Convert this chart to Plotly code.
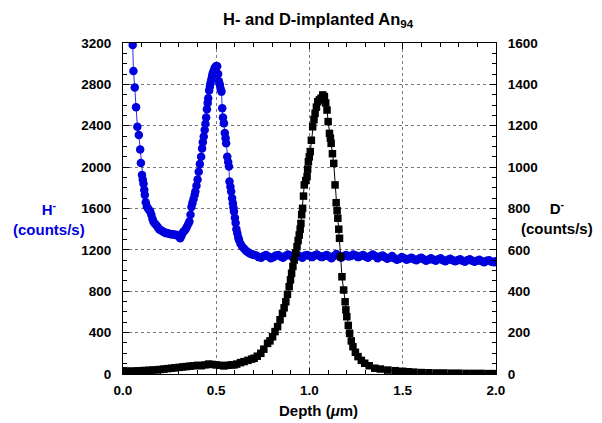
import plotly.graph_objects as go

# H- (blue, left axis)
h_depth = [0.052,0.056,0.063,0.070,0.077,0.085,0.092,0.096,0.102,0.106,0.110,0.114,0.117,0.122,0.128,0.134,0.140,0.146,0.152,0.158,
           0.163,0.170,0.178,0.186,0.194,0.200,0.208,0.216,0.224,0.232,0.240,0.248,0.256,0.264,0.272,0.280,0.290,0.298,0.307,0.314,
           0.320,0.327,0.334,0.342,0.350,0.356,0.362,0.367,0.372,0.378,0.384,0.388,0.394,0.400,0.406,0.412,0.419,0.424,0.428,0.433,
           0.438,0.442,0.446,0.450,0.454,0.457,0.462,0.466,0.469,0.474,0.478,0.481,0.486,0.491,0.496,0.501,0.505,0.510,0.514,0.519,
           0.523,0.528,0.532,0.536,0.541,0.546,0.550,0.553,0.559,0.564,0.568,0.571,0.576,0.580,0.585,0.589,0.592,0.595,0.600,0.604,
           0.608,0.613,0.618,0.622,0.630,0.640,0.650,0.660,0.667,0.676,0.686,0.695,0.703,
           0.715,0.728,0.741,0.754,0.767,0.780,0.793,0.806,0.819,0.832,0.845,0.858,0.871,0.884,0.897,0.910,0.923,0.936,0.949,0.962,
           0.975,0.988,1.001,1.014,1.027,1.040,1.053,1.066,1.079,1.092,1.105,1.118,1.131,1.144,1.157,1.170,1.183,1.196,1.209,1.222,
           1.235,1.248,1.261,1.274,1.287,1.300,1.313,1.326,1.339,1.352,1.365,1.378,1.391,1.404,1.417,1.430,1.443,1.456,1.469,1.482,
           1.495,1.508,1.521,1.534,1.547,1.560,1.573,1.586,1.599,1.612,1.625,1.638,1.651,1.664,1.677,1.690,1.703,1.716,1.729,1.742,
           1.755,1.768,1.781,1.794,1.807,1.820,1.833,1.846,1.859,1.872,1.885,1.898,1.911,1.924,1.937,1.950,1.963,1.976,1.989,1.998]
h_counts = [3180,2930,2770,2580,2390,2310,2170,2040,1925,1880,1840,1780,1730,1660,1620,1600,1585,1570,1540,1500,
            1475,1455,1440,1420,1400,1392,1385,1375,1368,1362,1360,1356,1352,1350,1348,1346,1344,1330,1312,1340,
            1365,1380,1395,1420,1450,1475,1540,1615,1650,1690,1730,1765,1820,1880,1955,2030,2100,2180,2240,2295,
            2360,2420,2480,2560,2620,2665,2740,2780,2810,2850,2880,2905,2930,2955,2970,2978,2975,2900,2830,2800,
            2760,2730,2570,2480,2425,2330,2280,2230,2100,2050,2005,1860,1810,1765,1700,1650,1610,1570,1510,1460,
            1400,1360,1320,1295,1260,1230,1210,1190,1182,1170,1160,1155,1150,
            1145,1130,1125,1140,1150,1135,1120,1130,1145,1150,1135,1125,1140,1155,1145,1130,1140,1150,1135,1125,
            1145,1150,1140,1130,1145,1155,1140,1130,1140,1150,1135,1120,1140,1160,1145,1125,1140,1150,1135,1140,
            1155,1145,1130,1140,1150,1135,1125,1140,1155,1140,1120,1135,1145,1130,1115,1125,1140,1120,1105,1115,
            1130,1120,1105,1115,1125,1110,1100,1115,1125,1110,1095,1105,1120,1105,1095,1110,1120,1100,1090,1105,
            1115,1100,1090,1100,1110,1095,1085,1100,1110,1095,1085,1095,1105,1090,1080,1095,1100,1085,1080,1090]

# D- (black, right axis)
d_depth = [0.000,0.020,0.040,0.060,0.080,0.100,0.120,0.140,0.160,0.180,0.200,0.220,0.240,0.260,0.280,0.300,0.320,0.340,0.360,0.380,
           0.400,0.420,0.440,0.460,0.480,0.500,0.520,0.541,0.560,0.580,0.595,0.610,0.630,0.649,0.670,0.690,0.703,0.720,0.739,0.755,
           0.775,0.788,0.802,0.815,0.829,0.842,0.855,0.864,0.873,0.882,0.891,0.898,0.904,0.911,0.918,0.926,0.933,0.939,0.945,0.950,
           0.954,0.958,0.963,0.968,0.972,0.980,0.987,0.990,0.994,0.999,1.004,1.010,1.017,1.024,1.030,1.037,1.044,1.053,1.062,1.071,
           1.080,1.087,1.094,1.100,1.107,1.112,1.116,1.123,1.130,1.137,1.143,1.148,1.152,1.157,1.161,1.167,1.174,1.183,1.191,1.195,
           1.200,1.208,1.215,1.224,1.233,1.246,1.260,1.278,1.296,1.320,1.350,1.380,1.420,1.460,1.500,1.530,1.560,1.600,1.640,1.680,
           1.720,1.760,1.800,1.840,1.880,1.920,1.960,1.990]
d_counts = [15,14,13,14,15,16,17,18,19,20,22,24,26,28,30,32,34,36,38,40,
            42,40,44,48,46,44,42,39,42,44,44,48,55,60,66,72,76,86,100,120,
            148,160,180,205,229,262,293,320,349,385,422,455,487,520,551,585,615,645,672,700,
            728,770,801,860,914,935,954,990,1026,1050,1075,1130,1195,1230,1260,1290,1316,1325,1333,1349,
            1341,1310,1276,1220,1163,1140,1115,1065,1018,914,828,790,753,700,656,567,470,406,349,310,
            277,235,197,160,132,105,84,66,52,40,28,24,19,16,13,11,9,7,6,5,
            5,4,4,3,3,3,2,2]

x_ticks = [0.0, 0.5, 1.0, 1.5, 2.0]
h_ticks = [0, 400, 800, 1200, 1600, 2000, 2400, 2800, 3200]
d_ticks = [0, 200, 400, 600, 800, 1000, 1200, 1400, 1600]

FONT = "Liberation Sans"
BLUE = "#0000dd"

fig = go.Figure()
fig.add_trace(go.Scatter(x=h_depth, y=h_counts, mode="lines+markers", yaxis="y",
                         line=dict(color="#3030e0", width=1),
                         marker=dict(symbol="circle", size=8.5, color=BLUE), showlegend=False))
fig.add_trace(go.Scatter(x=d_depth, y=d_counts, mode="lines+markers", yaxis="y2",
                         line=dict(color="black", width=1),
                         marker=dict(symbol="square", size=7.5, color="black"), showlegend=False))

tickfont = dict(family=FONT, size=13.5, color="black", weight="bold")
fig.update_layout(
    width=602, height=423,
    margin=dict(l=115, r=114, t=35, b=57, autoexpand=False),
    plot_bgcolor="white", paper_bgcolor="white",
    xaxis=dict(range=[0, 2], tickvals=x_ticks, ticktext=[f"{v:.1f}" for v in x_ticks],
               showline=True, linecolor="black", linewidth=1, mirror="ticks",
               ticks="inside", ticklen=6, tickcolor="black", ticklabelstandoff=4,
               minor=dict(dtick=0.1, ticks="inside", ticklen=4, tickcolor="black", showgrid=False),
               showgrid=True, gridcolor="#777777", griddash="dot", gridwidth=1,
               zeroline=False, tickfont=tickfont),
    yaxis=dict(range=[0, 3200], tickvals=h_ticks,
               showline=True, linecolor="black", linewidth=1,
               ticks="inside", ticklen=6, tickcolor="black", ticklabelstandoff=8,
               minor=dict(dtick=100, ticks="inside", ticklen=4, tickcolor="black", showgrid=False),
               showgrid=True, gridcolor="#777777", griddash="dot", gridwidth=1,
               zeroline=False, tickfont=tickfont),
    yaxis2=dict(range=[0, 1600], tickvals=d_ticks, overlaying="y", side="right",
                showline=True, linecolor="black", linewidth=1,
                ticks="inside", ticklen=6, tickcolor="black", ticklabelstandoff=8,
                minor=dict(dtick=50, ticks="inside", ticklen=4, tickcolor="black", showgrid=False),
                showgrid=False, zeroline=False, tickfont=tickfont),
)

fig.add_annotation(text="H- and D-implanted An<sub>94</sub>", xref="paper", yref="paper",
                   x=0.523, y=1.068, xanchor="center", yanchor="middle", showarrow=False,
                   font=dict(family=FONT, size=16.5, color="black", weight="bold"))
fig.add_annotation(text="H<sup>-</sup><br>(counts/s)", xref="paper", yref="paper",
                   x=-0.198, y=0.471, xanchor="center", yanchor="middle", showarrow=False, align="center",
                   font=dict(family=FONT, size=15, color=BLUE, weight="bold"))
fig.add_annotation(text="D<sup>-</sup><br>(counts/s)", xref="paper", yref="paper",
                   x=1.163, y=0.474, xanchor="center", yanchor="middle", showarrow=False, align="center",
                   font=dict(family=FONT, size=15, color="black", weight="bold"))
fig.add_annotation(text="Depth (<i>μ</i>m)", xref="paper", yref="paper",
                   x=0.523, y=-0.109, xanchor="center", yanchor="middle", showarrow=False,
                   font=dict(family=FONT, size=15, color="black", weight="bold"))

fig.write_html("out.html")
